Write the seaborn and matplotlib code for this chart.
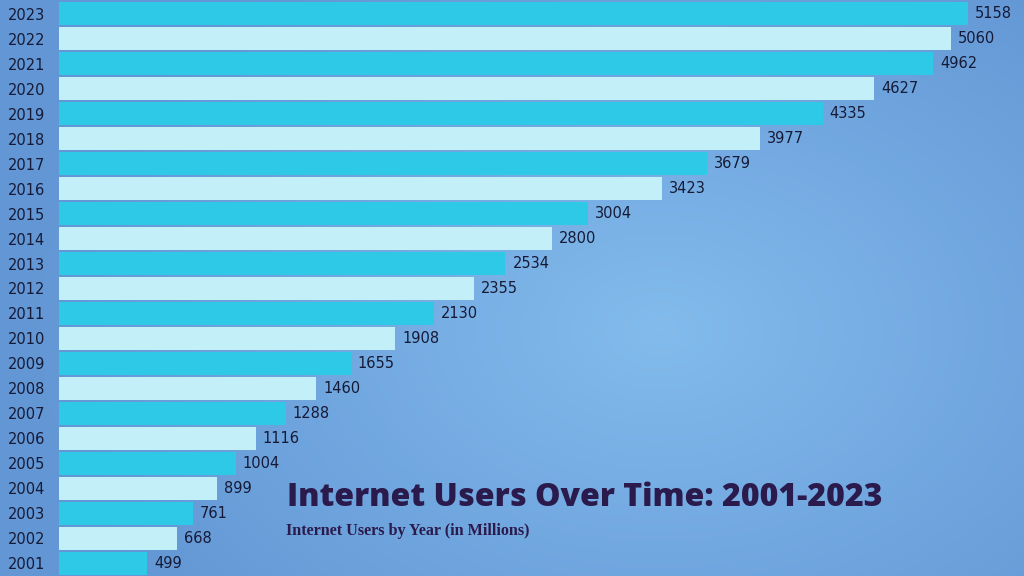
import numpy as np
import pandas as pd
import seaborn as sns
import matplotlib.pyplot as plt
from matplotlib.colors import LinearSegmentedColormap

# data
years = [2001, 2002, 2003, 2004, 2005, 2006, 2007, 2008, 2009, 2010, 2011, 2012,
         2013, 2014, 2015, 2016, 2017, 2018, 2019, 2020, 2021, 2022, 2023]
users = [499, 668, 761, 899, 1004, 1116, 1288, 1460, 1655, 1908, 2130, 2355,
         2534, 2800, 3004, 3423, 3679, 3977, 4335, 4627, 4962, 5060, 5158]

title = 'Internet Users Over Time: 2001-2023'
subtitle = 'Internet Users by Year (in Millions)'

dark_cyan = '#2ec9e7'
light_cyan = '#c3eff9'
text_col = '#161a36'
title_col = '#2b1a4c'

df = pd.DataFrame({'Year': [str(y) for y in years], 'Users': users})
order = [str(y) for y in years[::-1]]
# alternate colours, 2023 (top) is the dark one
palette = {str(y): (dark_cyan if (2023 - y) % 2 == 0 else light_cyan) for y in years}

sns.set_style('white')
plt.rcParams['font.family'] = ['DejaVu Sans']

fig = plt.figure(figsize=(10.24, 5.76), dpi=100)

# background: soft radial blue gradient
bg = fig.add_axes([0, 0, 1, 1], zorder=0)
gx, gy = np.meshgrid(np.linspace(0, 1024, 256), np.linspace(0, 576, 144))
r = np.sqrt(((gx - 660) / 650) ** 2 + ((gy - 330) / 450) ** 2)
cmap = LinearSegmentedColormap.from_list('bgblue', ['#82bbec', '#72a8e0', '#6296d4'])
bg.imshow(np.clip(r, 0, 1), cmap=cmap, aspect='auto', extent=[0, 1, 0, 1], origin='upper')
bg.axis('off')

ax = fig.add_axes([59 / 1024, 0, 1 - 59 / 1024, 1], zorder=1)
ax.set_facecolor('none')
sns.barplot(data=df, x='Users', y='Year', order=order, hue='Year', palette=palette,
            dodge=False, width=0.92, legend=False, saturation=1, linewidth=0, ax=ax)

for c in ax.containers:
    ax.bar_label(c, padding=5, fontsize=10.5, color=text_col)

ax.set_xlim(0, 5477)
ax.set_ylim(22.52, -0.56)
ax.set_xlabel('')
ax.set_ylabel('')
ax.set_xticks([])
ax.tick_params(axis='y', length=0, pad=10, labelsize=10.5, labelcolor=text_col)
sns.despine(ax=ax, left=True, bottom=True)

fig.text(287 / 1024, 1 - 498 / 576, title, fontsize=23, fontweight='heavy',
         color=title_col, va='center', ha='left', family=['Open Sans', 'DejaVu Sans'])
fig.text(286 / 1024, 1 - 531 / 576, subtitle, fontsize=11.6, fontweight='bold',
         color=title_col, va='center', ha='left', family=['Liberation Serif', 'DejaVu Serif'])

fig.savefig('out.png', dpi=100)
